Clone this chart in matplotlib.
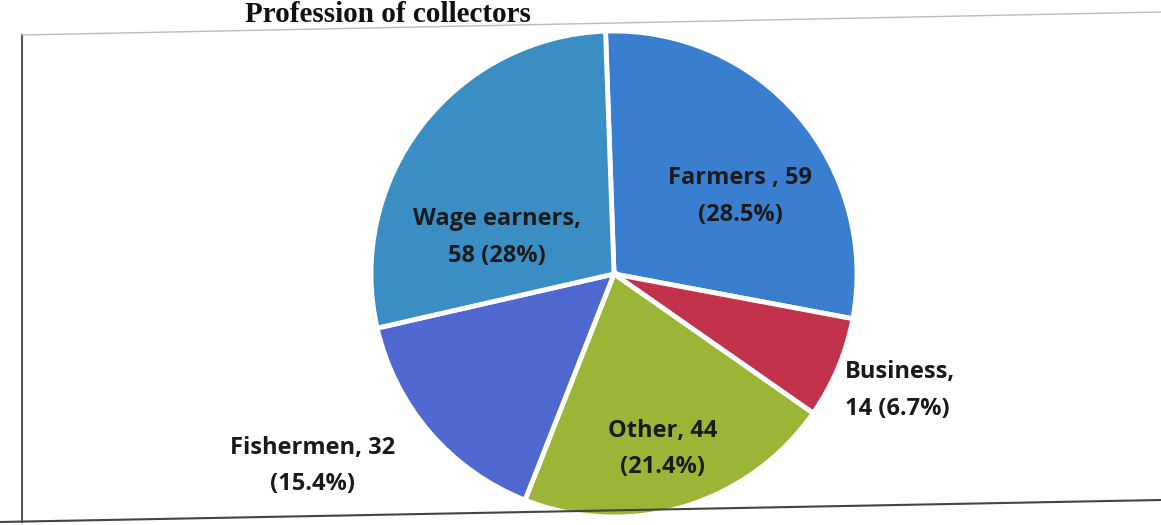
import matplotlib.pyplot as plt
from matplotlib.lines import Line2D

# Profession of collectors
professions = ['Farmers', 'Business', 'Other', 'Fishermen', 'Wage earners']
counts = [59, 14, 44, 32, 58]
shares = [28.5, 6.7, 21.4, 15.4, 28.0]
colors = ['#3a7fcf', '#c2324b', '#9bb636', '#4f69d0', '#3a8ec3']

labels = ['Farmers , 59\n(28.5%)',
          'Business,\n14 (6.7%)',
          'Other, 44\n(21.4%)',
          'Fishermen, 32\n(15.4%)',
          'Wage earners,\n58 (28%)']

W, H = 1161, 525
fig = plt.figure(figsize=(W / 100, H / 100), dpi=100)

# pie centre and radius in pixels
cx, cy, r = 614, 274, 243
ax = fig.add_axes([(cx - r) / W, (H - cy - r) / H, 2 * r / W, 2 * r / H])
wedges, _ = ax.pie(counts, colors=colors, startangle=92, counterclock=False,
                   wedgeprops=dict(edgecolor='white', linewidth=3.5))
ax.set_xlim(-1, 1)
ax.set_ylim(-1, 1)
ax.set_aspect('auto')

# label positions (fraction of radius), anchor and line alignment
pos = [(0.52, 0.32, 'center', 'center'),
       (0.95, -0.48, 'left', 'left'),
       (0.20, -0.72, 'center', 'center'),
       (-0.90, -0.79, 'right', 'center'),
       (-0.48, 0.15, 'center', 'center')]
for lab, (x, y, ha, ma) in zip(labels, pos):
    ax.text(x, y, lab, ha=ha, va='center', multialignment=ma,
            fontsize=17, fontweight='bold', family='Open Sans',
            color='#1a1a1a', linespacing=1.7)

# title at the top edge
fig.text(245 / W, 1.0 - 1 / H, 'Profession of collectors', ha='left', va='top',
         fontsize=21, fontweight='bold', family='Liberation Serif', color='#111111')

# chart frame, slightly skewed
fig.add_artist(Line2D([22 / W, 22 / W], [1 - 35 / H, 1 - 522 / H],
                      color='#555555', lw=1.5, transform=fig.transFigure))
fig.add_artist(Line2D([22 / W, 1.0], [1 - 35 / H, 1 - 12 / H],
                      color='#bbbbbb', lw=1.0, transform=fig.transFigure))
fig.add_artist(Line2D([0.0, 1.0], [1 - 522 / H, 1 - 500 / H],
                      color='#444444', lw=1.5, transform=fig.transFigure))

fig.savefig('out.png', dpi=100, facecolor='white')
